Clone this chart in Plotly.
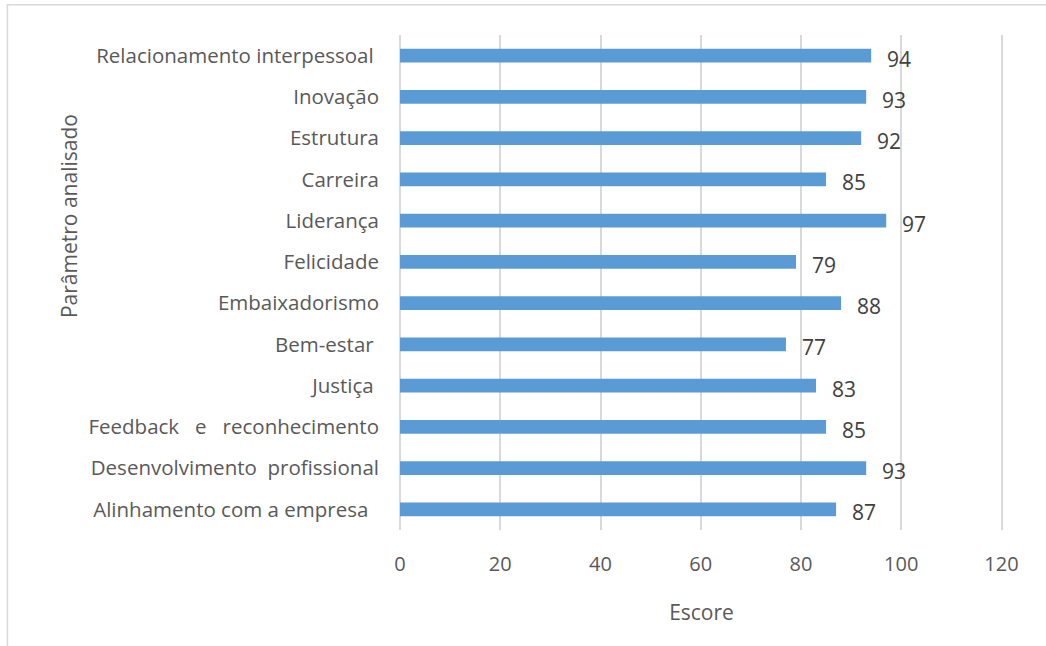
import plotly.graph_objects as go

categories = [
    "Relacionamento interpessoal\u00a0",
    "Inovação",
    "Estrutura",
    "Carreira",
    "Liderança",
    "Felicidade",
    "Embaixadorismo",
    "Bem-estar\u00a0",
    "Justiça\u00a0",
    "Feedback\u00a0\u00a0 e\u00a0\u00a0 reconhecimento",
    "Desenvolvimento\u00a0\u00a0profissional",
    "Alinhamento com a empresa\u00a0\u00a0",
]
values = [94, 93, 92, 85, 97, 79, 88, 77, 83, 85, 93, 87]
x_ticks = [0, 20, 40, 60, 80, 100, 120]

FONT = "Open Sans"
fig = go.Figure()
fig.add_trace(go.Bar(
    x=values, y=categories, orientation="h",
    marker=dict(color="#5B9BD5", line=dict(width=0)),
    width=0.33, hoverinfo="skip",
))
for c, v in zip(categories, values):
    fig.add_annotation(x=v, y=c, text=str(v), showarrow=False,
                       xanchor="left", xshift=14, yshift=-3,
                       font=dict(family=FONT, size=21, color="#404040"))

fig.add_annotation(xref="paper", yref="paper", x=-0.55, y=0.635,
                   text="Parâmetro analisado", textangle=-90, showarrow=False,
                   xanchor="center", yanchor="middle",
                   font=dict(family=FONT, size=21, color="#595959"))

# outer chart border (only top and left visible)
fig.add_shape(type="rect", xref="paper", yref="paper",
              x0=-0.651, x1=1.2, y0=-0.3, y1=1.061,
              line=dict(color="#d9d9d9", width=1.5), fillcolor="rgba(0,0,0,0)")

fig.update_layout(
    width=1046, height=646,
    margin=dict(l=400, r=43, t=35, b=116),
    paper_bgcolor="white", plot_bgcolor="white",
    showlegend=False,
    font=dict(family=FONT, size=21, color="#595959"),
    xaxis=dict(range=[0, 120.3], tickvals=x_ticks, showgrid=True,
               gridcolor="#d9d9d9", gridwidth=1.5, zeroline=True,
               zerolinecolor="#d9d9d9", zerolinewidth=1.5, showline=False,
               ticks="", ticklabelstandoff=20,
               tickfont=dict(family=FONT, size=20, color="#595959"),
               title=dict(text="Escore", standoff=29,
                          font=dict(family=FONT, size=21, color="#595959"))),
    yaxis=dict(autorange="reversed", showgrid=False, showline=False,
               ticks="", ticklabelstandoff=20,
               tickfont=dict(family=FONT, size=20.5, color="#595959")),
)
fig.write_html("out.html")
